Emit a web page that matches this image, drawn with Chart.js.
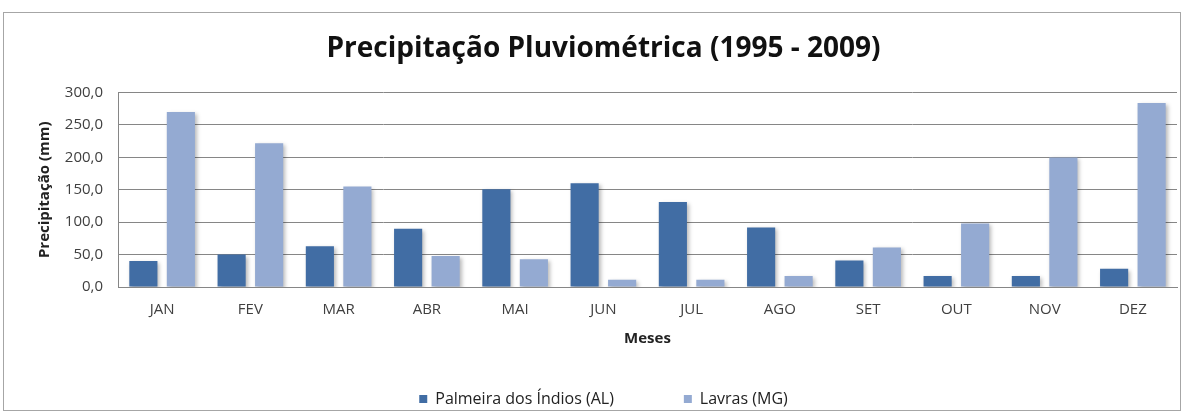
<!DOCTYPE html>
<html>
<head>
<meta charset="utf-8">
<script src="https://cdn.jsdelivr.net/npm/chart.js@4"></script>
<style>
html,body{margin:0;padding:0;background:#fff;}
#wrap{width:1184px;height:415px;position:relative;}
</style>
</head>
<body>
<div id="wrap"><canvas id="c" width="1184" height="415"></canvas></div>
<script>
const months = ['JAN','FEV','MAR','ABR','MAI','JUN','JUL','AGO','SET','OUT','NOV','DEZ'];
const palmeira = [40, 50, 63, 90, 151, 160, 131, 92, 41, 17, 17, 28];
const lavras = [270, 222, 155, 48, 43, 11, 11, 17, 61, 98, 200, 284];
const yTickLabels = ['0,0','50,0','100,0','150,0','200,0','250,0','300,0'];
const seriesNames = ['Palmeira dos Índios (AL)', 'Lavras (MG)'];

const FONT = "'Open Sans', 'DejaVu Sans', sans-serif";

const frame = {
  id: 'frame',
  beforeDraw(chart) {
    const ctx = chart.ctx;
    ctx.save();
    ctx.fillStyle = '#ffffff';
    ctx.fillRect(0, 0, chart.width, chart.height);
    ctx.strokeStyle = '#a6a6a6';
    ctx.lineWidth = 1;
    ctx.strokeRect(3.5, 12.5, 1177, 398);
    ctx.restore();
  },
  beforeDatasetsDraw(chart) {
    const ctx = chart.ctx;
    ctx.save();
    ctx.shadowColor = 'rgba(0,0,0,0.28)';
    ctx.shadowBlur = 4;
    ctx.shadowOffsetX = 2;
    ctx.shadowOffsetY = 2;
  },
  afterDatasetsDraw(chart) {
    chart.ctx.restore();
  }
};

new Chart(document.getElementById('c'), {
  type: 'bar',
  data: {
    labels: months,
    datasets: [
      { label: seriesNames[0], data: palmeira, backgroundColor: '#416DA4' },
      { label: seriesNames[1], data: lavras, backgroundColor: '#94AAD2' }
    ]
  },
  options: {
    responsive: false,
    animation: false,
    devicePixelRatio: 1,
    layout: { padding: { left: 30, right: 7, top: 0, bottom: -2 } },
    datasets: { bar: { categoryPercentage: 0.85, barPercentage: 0.75 } },
    scales: {
      x: {
        grid: { display: false, drawTicks: false },
        border: { display: true, color: '#868686', width: 1 },
        ticks: { padding: 14, color: '#404040', font: { family: FONT, size: 15 } },
        title: { display: true, text: 'Meses', color: '#222', font: { family: FONT, size: 15, weight: 'bold' }, padding: { top: 0, bottom: -27 } },
        afterFit(scale) { scale.height = 34; }
      },
      y: {
        min: 0, max: 300,
        grid: { color: '#868686', lineWidth: 1, drawTicks: false },
        border: { display: true, color: '#868686', width: 1 },
        ticks: {
          stepSize: 50, padding: 15, color: '#404040', font: { family: FONT, size: 15 },
          callback: (v, i) => yTickLabels[i]
        },
        title: { display: true, text: 'Precipitação (mm)', color: '#222', font: { family: FONT, size: 15, weight: 'bold' }, padding: { top: 6, bottom: 0 } },
        afterFit(scale) { scale.width = 88; }
      }
    },
    plugins: {
      title: {
        display: true,
        text: 'Precipitação Pluviométrica (1995 - 2009)',
        color: '#111',
        font: { family: FONT, size: 28, weight: 'bold' },
        padding: { top: 32, bottom: 27 }
      },
      legend: {
        position: 'bottom',
        labels: { boxWidth: 8, boxHeight: 8, padding: 70, color: '#222', font: { family: FONT, size: 16 } }
      },
      tooltip: { enabled: false }
    }
  },
  plugins: [frame]
});
</script>
</body>
</html>
